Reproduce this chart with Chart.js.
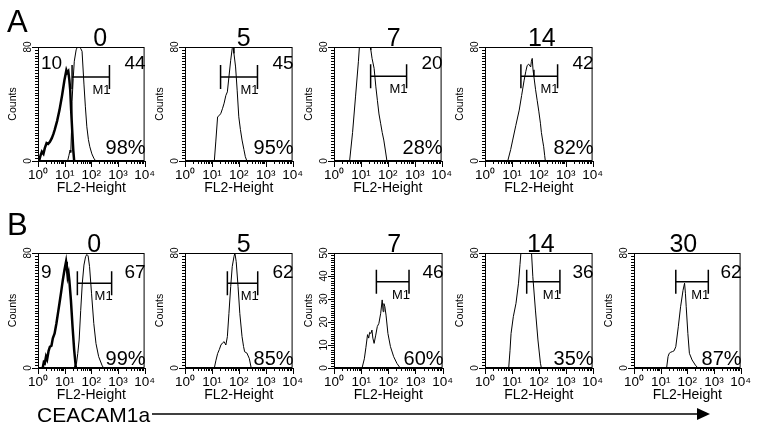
<!DOCTYPE html>
<html>
<head>
<meta charset="utf-8">
<script src="https://cdn.jsdelivr.net/npm/chart.js@4/dist/chart.umd.min.js"></script>
<style>
  body { margin: 0; background: #fff; }
  #fig { position: relative; width: 761px; height: 437px; overflow: hidden; font-family: "Liberation Sans", Arial, sans-serif; }
  .panel { position: absolute; }
  .lbl { position: absolute; color: #000; line-height: 1; white-space: nowrap; }
  svg { position: absolute; left: 0; top: 0; }
</style>
</head>
<body>
<div id="fig">
  <svg width="761" height="437">
    <line x1="103" y1="414" x2="700" y2="414" stroke="#000" stroke-width="1.5"/>
    <polygon points="697,408 710,414 697,420" fill="#000"/>
  </svg>
  <div class="lbl" style="left:7px;top:6px;font-size:31px">A</div>
  <div class="lbl" style="left:7px;top:209px;font-size:31px">B</div>
  <div class="lbl" style="left:37px;top:404px;font-size:21px;background:#fff;padding-right:2px">CEACAM1a</div>
</div>
<script>
const FONT = '"Liberation Sans", Arial, sans-serif';
Chart.defaults.font.family = FONT;
Chart.defaults.color = '#000';

// histograms, [FL2-Height, Counts]
const a0Ctrl = [[1.1,0],[1.25,4],[1.4,6.5],[1.6,5],[1.8,9],[2.1,12.6],[2.4,12],[2.8,13.5],[3.3,16],[3.8,19],[4.2,21.7],[5.2,28],[6.4,35.7],[8,46],[9.8,56.7],[11.6,63.7],[12.5,62],[13.7,63],[15,57],[16.2,49.7],[17.5,36],[19.2,21.7],[21,8],[22.8,0]];
const a0Stain = [[12.9,0],[14.5,4],[16,7.7],[17,6],[18,20],[19,42],[21,58],[23,70],[27,78],[30,80],[35,80],[40,79],[45,77],[53,54],[60,38],[68,24],[78,15],[88,10],[105,5],[124,2],[146,0]];
const a5Stain = [[12.3,0],[14,14],[16.3,31],[19,32],[21.6,33.5],[25,37],[28.5,40.6],[33,46],[37.6,48.5],[43,59],[50,70.7],[57,79],[61,80],[66,75.5],[76,66],[87,49.7],[100,31],[115,22],[132,14.7],[155,8],[175,3],[200,0]];
const a7Stain = [[3.8,0],[4.9,20],[6.3,45],[8.1,70],[8.8,80],[14,80],[22,80],[23.4,78],[26,72],[31,65],[36,52],[41,42.6],[47,33],[54,26.5],[62,20],[71,14.7],[82,7],[93,0]];
const a14Stain = [[7,0],[9,8],[10.7,14.7],[14,25],[18.7,35.7],[23,46],[28.5,56.7],[33,63],[37,67],[42,68],[50,66],[53,70],[57,72],[61,64],[66,59],[76,50],[87,42.6],[100,35],[115,26.5],[125,20],[140,14],[152,10],[165,4],[175,0]];
const b0Ctrl = [[1.5,0],[1.65,4],[1.8,3.3],[2.0,8],[2.2,6],[2.5,12],[2.8,14.8],[3.2,15.5],[3.6,20.6],[4.2,24],[4.9,31],[5.6,38],[6.4,45],[7.4,53],[8.5,61],[9.8,68],[11.3,74],[12,70],[13,63.5],[14,66],[15,61],[17.2,47],[19.8,28.7],[22.8,12.5],[26.4,0]];
const b0Stain = [[22.8,0],[25,2],[27.7,3],[31,10],[35,19.5],[40,40],[46,59],[53,71.6],[61,77.4],[68,79],[76,78],[86,70.5],[102,52],[124,31],[150,17],[189,7.9],[251,2],[288,0]];
const b5Stain = [[12.3,0],[14,5],[16.3,10],[19,13],[21.6,16],[25,17.5],[28.5,18.3],[33,16],[37.6,21.8],[43,38],[50,56.6],[57,70.5],[66,77.4],[71.5,80],[80,74],[94,56.6],[109,38],[132,21.8],[150,15],[165,11.3],[200,10.4],[245,6.7],[290,0]];
const b7Stain = [[10.8,0],[13.1,4],[15,9],[17.2,14.5],[19,13],[20.5,15.5],[22.8,15],[25,16.5],[27,13],[30,10.7],[34.5,14.3],[39.3,18],[45,19.4],[52.5,23.8],[59.6,29.6],[64.6,24.5],[69,28],[74.6,26.7],[82.6,23],[97,15],[120,9.3],[158,4.9],[208,2],[274,0]];
const b14Stain = [[7.6,0],[8.5,12],[9.3,24],[11.3,35.7],[14.2,45],[17.6,59],[20,72],[21.6,80],[53.7,80],[60,63.5],[75,40.3],[93,19.5],[115,3.3],[125,0]];
const b30Stain = [[16.7,0],[19,8],[21,10.2],[24,11],[27.6,11.4],[32,12],[37,14.8],[46,28.7],[56,42.6],[62,48],[69,54],[79,59],[85,52],[91,42.6],[105,24],[120,10.2],[151,5.6],[201,2],[250,0]];

const controls = [a0Ctrl, null, null, null, b0Ctrl, null, null, null, null];
const stains = [a0Stain, a5Stain, a7Stain, a14Stain, b0Stain, b5Stain, b7Stain, b14Stain, b30Stain];

const titles = ['0', '5', '7', '14', '0', '5', '7', '14', '30'];
const leftNums = ['10', '', '', '', '9', '', '', '', ''];
const rightNums = ['44', '45', '20', '42', '67', '62', '46', '36', '62'];
const percents = ['98%', '95%', '28%', '82%', '99%', '85%', '60%', '35%', '87%'];
// M1 gate: [from, to, level]
const gates = [[19,480,59],[21,495,59],[23,500,59.5],[21.6,500,59.5],[30,580,59],[37.6,505,59],[36.4,580,37.5],[35.5,610,60],[37,615,60]];
const yMaxes = [80, 80, 80, 80, 80, 80, 50, 80, 80];
const yMinor = [2, 2, 2, 2, 2, 2, 1, 2, 2];
const yLabelStep = [80, 80, 80, 80, 80, 80, 10, 80, 80];
const xDecades = [1, 10, 100, 1000, 10000];
const sup = ['\u2070', '\u00b9', '\u00b2', '\u00b3', '\u2074'];

// layout: plot box [left, top, right, bottom], title shift, row
const boxes = [[38,47,147,161],[185,47,295,161],[334,47,444,161],[485,47,595,161],
               [38,253,147,368],[185,253,295,368],[334,253,445,368],[485,253,595,368],[634,253,743,368]];
const titleDx = [9, 5, 6, 3, 3, 5, 6, 2, -4];
const rowOf = [0, 0, 0, 0, 1, 1, 1, 1, 1];

const xTicks = [];
xDecades.forEach((d, i) => {
  if (i === xDecades.length - 1) { xTicks.push(d); return; }
  for (let k = 1; k < 10; k++) xTicks.push(d * k);
});
const isDecade = v => Math.abs(Math.log10(v) - Math.round(Math.log10(v))) < 1e-9;

const flowDecor = {
  id: 'flowDecor',
  afterDraw(chart, args, o) {
    const {ctx, chartArea: a, scales: {x, y}} = chart;
    ctx.save();
    ctx.strokeStyle = '#000';
    ctx.fillStyle = '#000';
    ctx.lineWidth = 1;
    ctx.strokeRect(a.left + 0.5, a.top + 0.5, a.right - a.left - 1, a.bottom - a.top - 1);

    // outside tick marks, long at decades / labelled counts
    ctx.beginPath();
    x.ticks.forEach(t => {
      const px = Math.round(x.getPixelForValue(t.value)) + 0.5;
      ctx.moveTo(px, a.bottom);
      ctx.lineTo(px, a.bottom + (isDecade(t.value) ? 6 : 3));
    });
    y.ticks.forEach(t => {
      const py = Math.round(y.getPixelForValue(t.value)) + 0.5;
      ctx.moveTo(a.left, py);
      ctx.lineTo(a.left - (t.value % o.labelStep === 0 ? 6 : 3), py);
    });
    ctx.stroke();

    ctx.font = '25px ' + FONT;
    ctx.textAlign = 'center';
    ctx.textBaseline = 'alphabetic';
    ctx.fillText(o.title, (a.left + a.right) / 2 + o.titleDx, a.top - 1.5);

    const numY = o.row === 0 ? a.top + 22 : a.top + 25;
    ctx.font = '19px ' + FONT;
    ctx.textAlign = 'left';
    ctx.fillText(o.left, a.left + 3, numY);
    ctx.textAlign = 'right';
    ctx.fillText(o.right, a.right + 1, numY);

    ctx.font = '20px ' + FONT;
    ctx.fillText(o.pct, a.right + 1, o.row === 0 ? a.bottom - 7 : a.bottom - 3);

    const g = o.gate;
    const x1 = x.getPixelForValue(g[0]);
    const x2 = x.getPixelForValue(g[1]);
    const gy = y.getPixelForValue(g[2]);
    ctx.lineWidth = 1.5;
    ctx.beginPath();
    ctx.moveTo(x1, gy); ctx.lineTo(x2, gy);
    ctx.moveTo(x1, gy - 12); ctx.lineTo(x1, gy + 12);
    ctx.moveTo(x2, gy - 12); ctx.lineTo(x2, gy + 12);
    ctx.stroke();
    ctx.font = '13px ' + FONT;
    ctx.fillText('M1', x2 + 1, gy + 17);
    ctx.restore();
  }
};

const fig = document.getElementById('fig');
boxes.forEach((b, i) => {
  const [L, T, R, B] = b;
  const div = document.createElement('div');
  div.className = 'panel';
  div.style.left = (L - 40) + 'px';
  div.style.top = (T - 38) + 'px';
  const cv = document.createElement('canvas');
  cv.width = R - L + 54;
  cv.height = B - T + 80;
  div.appendChild(cv);
  fig.insertBefore(div, fig.firstChild);

  const datasets = [];
  if (controls[i]) {
    datasets.push({ data: controls[i].map(p => ({x: p[0], y: p[1]})), borderColor: '#000', borderWidth: 2.5 });
  }
  datasets.push({ data: stains[i].map(p => ({x: p[0], y: p[1]})), borderColor: '#000', borderWidth: 1 });

  const ymax = yMaxes[i];
  new Chart(cv, {
    type: 'line',
    data: { datasets: datasets },
    options: {
      responsive: false,
      animation: false,
      layout: { padding: { top: 38, right: 14, bottom: 2, left: 0 } },
      elements: { point: { radius: 0 }, line: { tension: 0 } },
      plugins: {
        legend: { display: false },
        tooltip: { enabled: false },
        flowDecor: { title: titles[i], titleDx: titleDx[i], row: rowOf[i], left: leftNums[i],
                     right: rightNums[i], pct: percents[i], gate: gates[i], labelStep: yLabelStep[i] }
      },
      scales: {
        x: {
          type: 'logarithmic',
          min: 1,
          max: 10000,
          afterBuildTicks: s => { s.ticks = xTicks.map(v => ({ value: v })); },
          afterFit: s => { s.height = 40; },
          ticks: {
            autoSkip: false, maxRotation: 0, minRotation: 0, padding: 6,
            font: { size: 13.5 },
            callback: v => (isDecade(v) ? '10' + sup[Math.round(Math.log10(v))] : '')
          },
          grid: { drawOnChartArea: false, drawTicks: false },
          border: { color: '#000', width: 1 },
          title: { display: true, text: 'FL2-Height', font: { size: 14 }, padding: { top: 0, bottom: 4 } }
        },
        y: {
          type: 'linear',
          min: 0,
          max: ymax,
          afterBuildTicks: s => {
            const t = [];
            for (let v = 0; v <= ymax; v += yMinor[i]) t.push({ value: v });
            s.ticks = t;
          },
          afterFit: s => { s.width = 40; },
          ticks: {
            autoSkip: false, minRotation: 90, maxRotation: 90, crossAlign: 'center', padding: 4,
            font: { size: 10 },
            callback: v => (v % yLabelStep[i] === 0 ? String(v) : '')
          },
          grid: { drawOnChartArea: false, drawTicks: false },
          border: { color: '#000', width: 1 },
          title: { display: true, text: 'Counts', font: { size: 10.5 }, padding: { top: 9, bottom: 0 } }
        }
      }
    },
    plugins: [flowDecor]
  });
});
</script>
</body>
</html>
